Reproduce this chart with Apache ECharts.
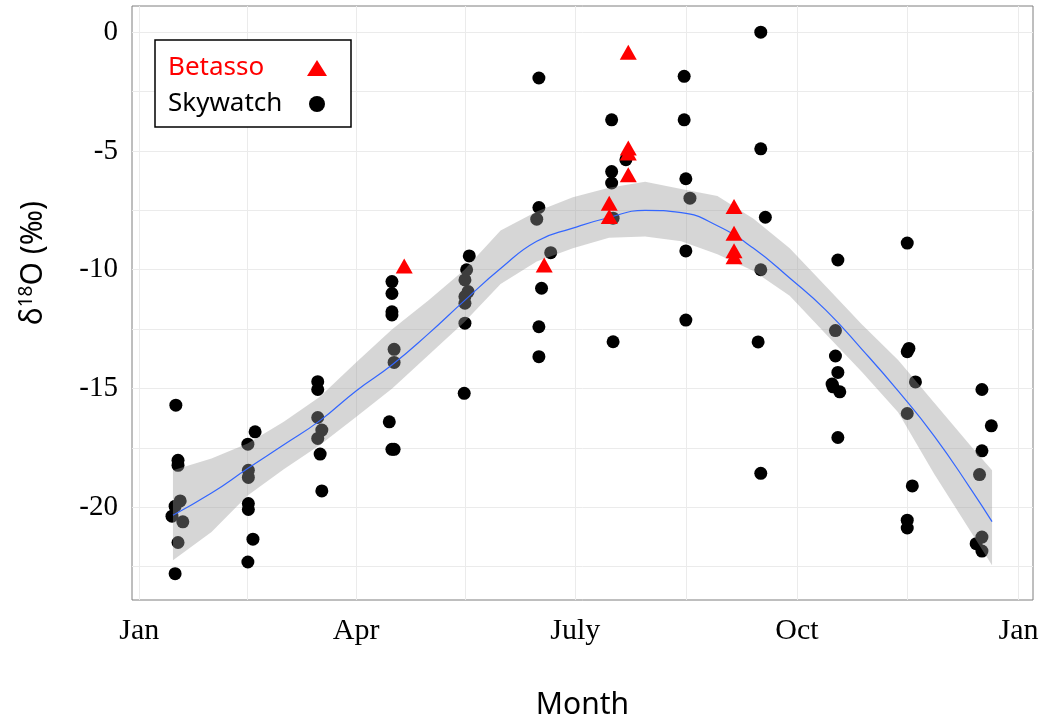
<!DOCTYPE html>
<html>
<head>
<meta charset="utf-8">
<script src="https://cdn.jsdelivr.net/npm/echarts@6/dist/echarts.min.js"></script>
<style>html,body{margin:0;padding:0;background:#fff}#c{width:1041px;height:719px}</style>
</head>
<body>
<div id="c"></div>
<script>
// Day of year (0 = Jan 1) and d18O values
const skywatchDays = [
  15.2,16.1,16.1,17.0,14.9,13.6,18.1,16.1,14.9,
  48.1,45.1,45.3,45.3,45.3,45.3,47.2,45.1,
  74.1,74.1,74.1,75.8,74.1,75.1,75.8,
  104.9,104.9,104.9,104.9,105.8,105.8,103.8,104.9,105.8,
  137.0,135.9,135.2,136.5,135.2,135.2,135.2,134.9,
  165.9,165.9,165.0,170.8,167.0,165.9,165.9,
  196.1,202.0,196.1,196.1,196.7,196.7,
  226.2,226.2,226.9,228.6,226.9,226.9,
  258.0,258.0,259.9,258.0,256.9,258.0,
  290.0,289.0,289.0,290.0,287.6,288.0,290.8,290.0,
  318.8,319.5,318.8,322.2,318.8,320.9,318.8,318.8,
  349.8,353.7,349.8,348.8,349.8,347.4,349.8
];
const skywatchD18O = [
  -15.7,-18.02,-18.23,-19.73,-19.95,-20.37,-20.61,-21.48,-22.79,
  -16.82,-17.34,-18.44,-18.74,-19.84,-20.09,-21.34,-22.3,
  -14.71,-15.04,-16.22,-16.75,-17.1,-17.76,-19.31,
  -10.5,-11.0,-11.77,-11.9,-13.35,-13.9,-16.4,-17.56,-17.56,
  -9.42,-10.0,-10.43,-10.92,-11.13,-11.41,-12.25,-15.2,
  -1.93,-7.38,-7.87,-9.28,-10.78,-12.4,-13.66,
  -3.69,-5.37,-5.87,-6.35,-7.83,-13.03,
  -1.86,-3.69,-6.17,-6.99,-9.21,-12.12,
  0.0,-4.91,-7.79,-10.0,-13.04,-18.57,
  -9.59,-12.56,-13.63,-14.32,-14.81,-14.93,-15.14,-17.06,
  -8.88,-13.31,-13.45,-14.72,-16.05,-19.1,-20.54,-20.87,
  -15.04,-16.57,-17.62,-18.62,-21.25,-21.53,-21.84
];
const betassoDays = [110.0,168.1,203.0,203.0,203.0,203.0,195.1,195.1,246.9,246.9,246.9,246.9];
const betassoD18O = [-9.84,-9.8,-0.85,-4.88,-5.09,-6.0,-7.2,-7.76,-7.34,-8.46,-9.2,-9.45];

// Smoothed fit and its confidence band
const fitDays  = [14,30,45,60,75,90,105,120,135,150,165,180,195,210,225,240,255,270,285,300,315,330,345,354];
const fitMean  = [-20.33,-19.4,-18.37,-17.37,-16.35,-15.1,-14.0,-12.7,-11.3,-9.95,-8.8,-8.25,-7.8,-7.5,-7.6,-8.15,-9.1,-10.35,-11.7,-13.35,-15.1,-17.0,-19.2,-20.6];
const fitUpper = [-18.44,-17.94,-17.31,-16.4,-15.35,-13.9,-12.5,-11.3,-10.0,-8.35,-7.55,-6.95,-6.55,-6.3,-6.6,-6.9,-7.85,-9.1,-10.7,-12.3,-13.8,-15.6,-17.4,-18.44];
const fitLower = [-22.23,-21.04,-19.5,-18.4,-17.38,-16.2,-15.0,-13.6,-12.2,-10.6,-9.65,-9.1,-8.65,-8.6,-8.8,-9.35,-10.05,-11.1,-12.7,-14.3,-16.0,-18.6,-21.0,-22.44];

// Axis ticks
const monthTickDays = [0,90,181,273,365];
const monthLabels   = ['Jan','Apr','July','Oct','Jan'];
const xGridDays     = [0,45,90,135.5,181,227,273,319,365];
const yTickValues   = [0,-5,-10,-15,-20];
const yTickLabels   = ['0','-5','-10','-15','-20'];
const yGridValues   = [0,-2.5,-5,-7.5,-10,-12.5,-15,-17.5,-20,-22.5];

const zip = (a, b) => a.map((v, i) => [v, b[i]]);

const chart = echarts.init(document.getElementById('c'), null, {renderer: 'canvas'});
const option = {
  animation: false,
  backgroundColor: '#fff',
  grid: {left: 132, right: 8, top: 6, bottom: 119, outerBoundsMode: 'none', containLabel: false,
         show: true, borderColor: '#7f7f7f', borderWidth: 1, backgroundColor: 'transparent'},
  legend: {
    left: 155, top: 40, orient: 'vertical', align: 'right',
    data: [
      {name: 'Betasso', textStyle: {color: '#ff0000'}},
      {name: 'Skywatch', textStyle: {color: '#000000'}}
    ],
    formatter: name => '{n|' + name + '}',
    textStyle: {fontFamily: 'Noto Sans', fontSize: 26, rich: {n: {width: 134, align: 'left', fontFamily: 'Noto Sans', fontSize: 26}}},
    itemWidth: 20, itemHeight: 16, itemGap: 10,
    itemStyle: {opacity: 1},
    borderColor: '#000', borderWidth: 1.5, padding: [15, 24, 10, 13], backgroundColor: '#fff'
  },
  xAxis: {
    type: 'value', min: -3, max: 371,
    axisLine: {show: false},
    axisTick: {show: false, customValues: xGridDays},
    splitLine: {show: true, lineStyle: {color: '#ebebeb', width: 1}},
    axisLabel: {customValues: monthTickDays, formatter: v => monthLabels[monthTickDays.indexOf(v)],
                fontFamily: 'Liberation Serif', fontSize: 30, color: '#000', margin: 16},
    name: 'Month', nameLocation: 'middle', nameGap: 90,
    nameTextStyle: {fontFamily: 'Noto Sans', fontSize: 30, color: '#000'}
  },
  yAxis: {
    type: 'value', min: -23.9, max: 1.1,
    axisLine: {show: false},
    axisTick: {show: false, customValues: yGridValues},
    splitLine: {show: true, lineStyle: {color: '#ebebeb', width: 1}},
    axisLabel: {customValues: yTickValues, formatter: v => yTickLabels[yTickValues.indexOf(v)],
                fontFamily: 'Liberation Serif', fontSize: 29, color: '#000', margin: 14},
    name: '{a|δ}{s|18}{a|O (‰)}', nameLocation: 'middle', nameGap: 82, nameRotate: 90,
    nameTextStyle: {fontFamily: 'Noto Sans', fontSize: 30, color: '#000', padding: [0, 0, 0, 80],
      rich: {a: {fontFamily: 'Noto Sans', fontSize: 30, color: '#000'},
             s: {fontFamily: 'Noto Sans', fontSize: 19, color: '#000', padding: [0, 0, 14, 0]}}}
  },
  series: [
    {name: 'Skywatch', type: 'scatter', symbol: 'circle', symbolSize: 13,
     itemStyle: {color: '#000', opacity: 1}, data: zip(skywatchDays, skywatchD18O), z: 2},
    {name: 'band', type: 'custom', silent: true, z: 3,
     data: [[fitDays[0], fitMean[0]]], encode: {x: 0, y: 1},
     renderItem: (params, api) => {
       const pts = fitDays.map((d, i) => api.coord([d, fitUpper[i]]));
       for (let i = fitDays.length - 1; i >= 0; i--) pts.push(api.coord([fitDays[i], fitLower[i]]));
       return {type: 'polygon', shape: {points: pts, smooth: 0}, style: {fill: 'rgba(153,153,153,0.4)'}};
     }},
    {name: 'fit', type: 'line', showSymbol: false, smooth: true, z: 4,
     lineStyle: {color: '#3366ff', width: 1.2}, data: zip(fitDays, fitMean)},
    {name: 'Betasso', type: 'scatter', symbol: 'triangle', symbolSize: [17, 15],
     itemStyle: {color: '#ff0000', opacity: 1}, data: zip(betassoDays, betassoD18O), z: 5}
  ]
};
chart.setOption(option);
</script>
</body>
</html>
